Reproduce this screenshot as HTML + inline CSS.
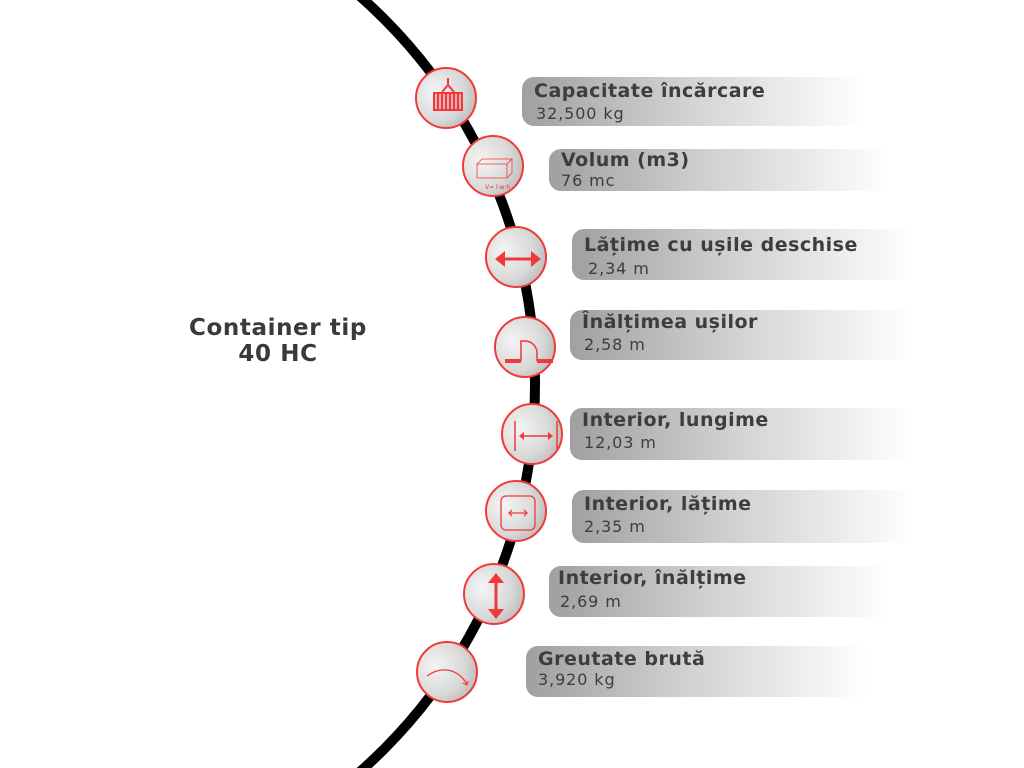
<!DOCTYPE html>
<html style="overflow:hidden"><head><meta charset="utf-8"><style>
html,body{margin:0;width:1024px;height:768px;overflow:hidden}
body{background:#fff;position:relative;font-family:"DejaVu Sans","Liberation Sans",sans-serif}
.bar{position:absolute;border-radius:12px 0 0 12px;background:linear-gradient(90deg,#a0a0a0 0%,#cfcfcf 45%,rgba(255,255,255,0.9) 100%);width:342px}
.bar b{position:absolute;left:12px;top:3px;font-size:19px;color:#3d3d3d;white-space:nowrap;letter-spacing:0.5px}
.bar span{position:absolute;left:14px;top:27px;font-size:16px;color:#3d3d3d;white-space:nowrap;letter-spacing:0.9px}
.c{position:absolute;width:62px;height:62px;border-radius:50%;border:2.5px solid #f03a3a;background:radial-gradient(circle at 30% 40%,#f4f4f4,#d8d8d8 55%,#a8a8a8);box-sizing:border-box}
.c svg{position:absolute;left:0;top:0}
.title{position:absolute;left:128px;top:315px;width:300px;text-align:center;font-size:23px;font-weight:bold;color:#3a3a3a;line-height:26px;letter-spacing:0.6px}
</style></head><body>
<svg width="1024" height="768" style="position:absolute;left:0;top:0"><circle cx="18" cy="384" r="517" fill="none" stroke="#000" stroke-width="10"/></svg>
<div class="title">Container tip<br>40 HC</div>

<div class="bar" style="left:522px;top:77px;height:49px"><b>Capacitate încărcare</b><span>32,500 kg</span></div>
<div class="bar" style="left:549px;top:149px;height:42px"><b style="top:0">Volum (m3)</b><span style="top:22px;left:12px">76 mc</span></div>
<div class="bar" style="left:572px;top:229px;height:51px"><b style="top:5px">Lățime cu ușile deschise</b><span style="top:30px;left:16px">2,34 m</span></div>
<div class="bar" style="left:570px;top:310px;height:50px"><b style="top:1px">Înălțimea ușilor</b><span style="top:25px">2,58 m</span></div>
<div class="bar" style="left:570px;top:408px;height:52px"><b style="top:1px">Interior, lungime</b><span style="top:25px">12,03 m</span></div>
<div class="bar" style="left:572px;top:490px;height:53px"><b style="top:3px">Interior, lățime</b><span style="top:27px;left:12px">2,35 m</span></div>
<div class="bar" style="left:549px;top:566px;height:51px"><b style="top:1px;left:9px">Interior, înălțime</b><span style="top:26px;left:11px">2,69 m</span></div>
<div class="bar" style="left:526px;top:646px;height:51px"><b style="top:2px">Greutate brută</b><span style="top:24px;left:12px">3,920 kg</span></div>

<div class="c" style="left:415px;top:67px"><svg width="62" height="62"><g transform="translate(3,3)" stroke="#f03a3a" fill="none" stroke-width="2"><path d="M28 6v6M22 20l6-7 6 7"/><rect x="14" y="21" width="28" height="17" fill="#f03a3a" fill-opacity=".3"/><path d="M18 21v17M22 21v17M26 21v17M30 21v17M34 21v17M38 21v17"/></g></svg></div>
<div class="c" style="left:462px;top:135px"><svg width="62" height="62"><g transform="translate(3,3)" stroke="#f03a3a" fill="none" stroke-width="0.8"><path d="M10 24l5-5h30l-5 5zM10 24v14h30V24M40 38l5-5V19"/><text x="18" y="49" font-size="6" fill="#f03a3a" stroke="none">V= l·w·h</text></g></svg></div>
<div class="c" style="left:485px;top:226px"><svg width="62" height="62"><g transform="translate(3,3)" stroke="#f03a3a" fill="#f03a3a" stroke-width="3"><path d="M12 28h32"/><path d="M5 28l10-8v16zM51 28l-10-8v16z" stroke="none"/></g></svg></div>
<div class="c" style="left:494px;top:316px"><svg width="62" height="62"><g transform="translate(3,3)" stroke="#f03a3a" fill="none" stroke-width="1.5"><path d="M22 40V20h4a12 12 0 0 1 12 12v8"/><path d="M6 40h16M38 40h16" stroke-width="4"/></g></svg></div>
<div class="c" style="left:501px;top:403px"><svg width="62" height="62"><g transform="translate(3,3)" stroke="#f03a3a" fill="#f03a3a" stroke-width="1.5"><path d="M9 13v30M51 13v30M14 28h32"/><path d="M13 28l5-4v8zM47 28l-5-4v8z" stroke="none"/></g></svg></div>
<div class="c" style="left:485px;top:480px"><svg width="62" height="62"><g transform="translate(3,3)" stroke="#f03a3a" fill="none" stroke-width="1.3"><rect x="11" y="11" width="34" height="34" rx="5"/><path d="M19 28h18M22 25l-3 3 3 3M34 25l3 3-3 3"/></g></svg></div>
<div class="c" style="left:463px;top:563px"><svg width="62" height="62"><g transform="translate(3,3)" stroke="#f03a3a" fill="#f03a3a" stroke-width="3"><path d="M28 13v30"/><path d="M28 5l-8 10h16zM28 51l-8-10h16z" stroke="none"/></g></svg></div>
<div class="c" style="left:416px;top:641px"><svg width="62" height="62"><g transform="translate(3,3)" stroke="#f03a3a" fill="none" stroke-width="1.2"><path d="M6 30c14-10 30-8 40 8"/><path d="M42 37l4 2 1-4"/></g></svg></div>
</body></html>
